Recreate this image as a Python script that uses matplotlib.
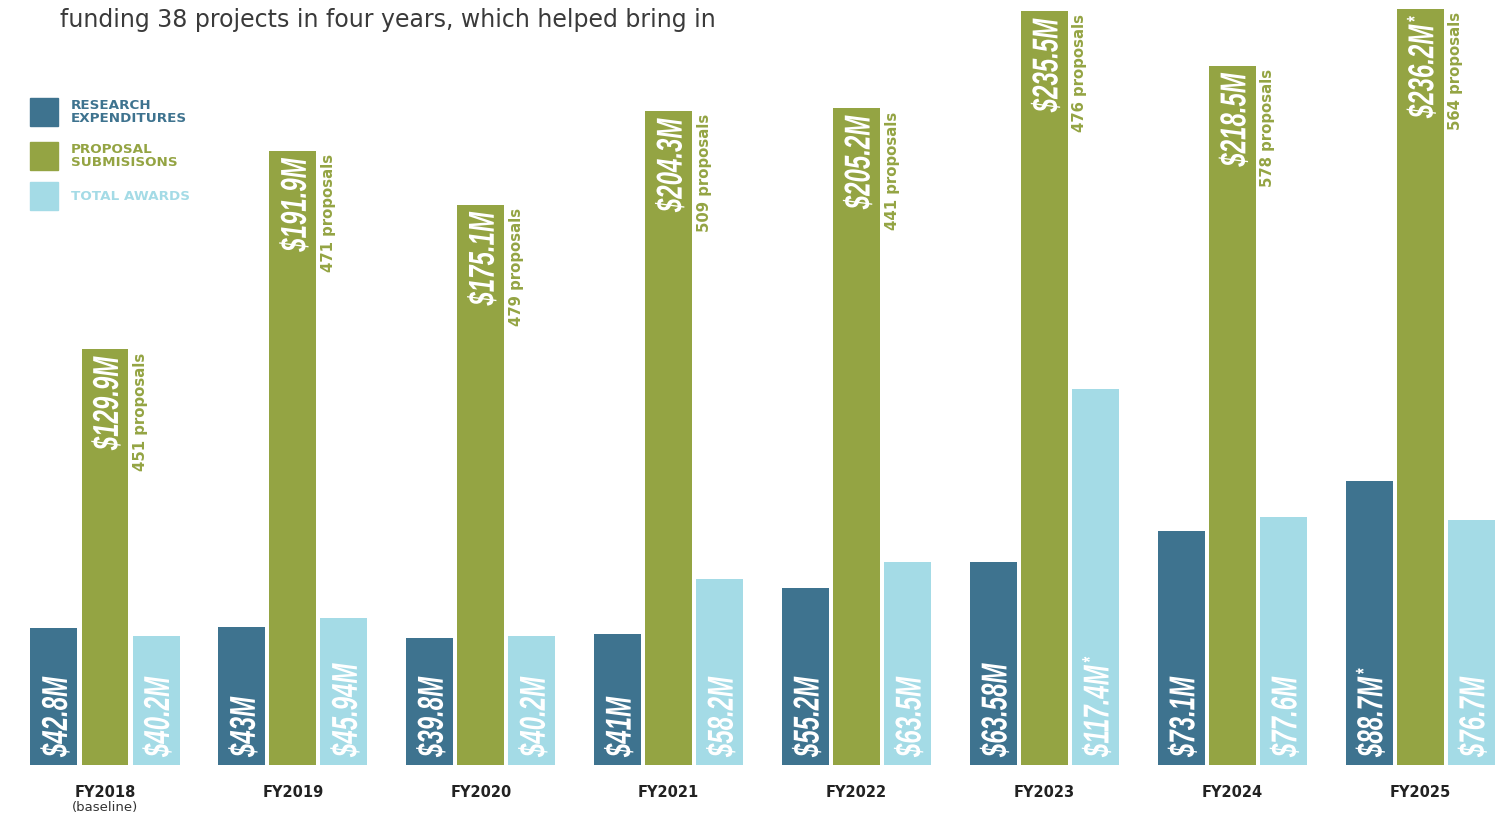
import matplotlib
matplotlib.use('Agg')
import matplotlib.pyplot as plt
import numpy as np
from matplotlib.textpath import TextPath
from matplotlib.patches import PathPatch, Rectangle
from matplotlib.font_manager import FontProperties
from matplotlib.transforms import Affine2D

# data (millions of dollars)
years = ['FY2018', 'FY2019', 'FY2020', 'FY2021', 'FY2022', 'FY2023', 'FY2024', 'FY2025']
research = [42.8, 43.0, 39.8, 41.0, 55.2, 63.58, 73.1, 88.7]
proposals = [129.9, 191.9, 175.1, 204.3, 205.2, 235.5, 218.5, 236.2]
awards = [40.2, 45.94, 40.2, 58.2, 63.5, 117.4, 77.6, 76.7]
n_proposals = [451, 471, 479, 509, 441, 476, 578, 564]
research_lbl = ['$42.8M', '$43M', '$39.8M', '$41M', '$55.2M', '$63.58M', '$73.1M', '$88.7M*']
proposal_lbl = ['$129.9M', '$191.9M', '$175.1M', '$204.3M', '$205.2M', '$235.5M', '$218.5M', '$236.2M*']
award_lbl = ['$40.2M', '$45.94M', '$40.2M', '$58.2M', '$63.5M', '$117.4M*', '$77.6M', '$76.7M']

C_RE = '#3e738f'
C_PS = '#94a443'
C_TA = '#a4dbe6'

W, H = 1509, 813
fig = plt.figure(figsize=(W / 100, H / 100), dpi=100)
ax = fig.add_axes([0, 48 / H, 1, 765 / H])
ax.axis('off')

x = np.arange(len(years))
step = 0.2715
bw = 0.25
ax.bar(x - step, research, bw, color=C_RE)
ax.bar(x, proposals, bw, color=C_PS)
ax.bar(x + step, awards, bw, color=C_TA)
ax.set_xlim(-105 / 187.9, (W - 105) / 187.9)
ax.set_ylim(0, 765 / 3.2)

# condensed italic labels inside the bars
fp = FontProperties(family='Liberation Sans', weight='bold', style='italic')
SX, SY, CAP = 24, 36, 0.72


def bar_text(xc, yv, s, top=False):
    star = s.endswith('*')
    s = s.rstrip('*')
    tp = TextPath((0, 0), s, size=1, prop=fp)
    L = tp.get_extents().x1 * SX
    sp = TextPath((0, 0), '*', size=0.6, prop=fp) if star else None
    Ls = sp.get_extents().x1 * SX + 2 if star else 0
    px, py = ax.transData.transform((xc, yv))
    y0 = py - L - Ls - 7 if top else py + 8
    tr = Affine2D().translate(0, -CAP / 2).scale(SX, SY).rotate_deg(90).translate(px, y0)
    fig.add_artist(PathPatch(tp, transform=tr, fc='white', ec='none'))
    if star:
        tr2 = Affine2D().translate(0, CAP / 2 - 0.4).scale(SX, SY).rotate_deg(90).translate(px, y0 + L + 2)
        fig.add_artist(PathPatch(sp, transform=tr2, fc='white', ec='none'))


fig.canvas.draw()
for i in range(len(years)):
    bar_text(x[i] - step, 0, research_lbl[i])
    bar_text(x[i], proposals[i], proposal_lbl[i], top=True)
    bar_text(x[i] + step, 0, award_lbl[i])
    ax.annotate(f'{n_proposals[i]} proposals', (x[i] + bw / 2, proposals[i]),
                xytext=(12, -3), textcoords='offset pixels', rotation=90,
                ha='center', va='top', color=C_PS, fontsize=10.7, fontweight='bold',
                annotation_clip=False)
    ax.annotate(years[i], (x[i], 0), xytext=(0, -27), textcoords='offset pixels',
                ha='center', va='center', fontsize=10.5, fontweight='bold',
                color='#222222', annotation_clip=False)
ax.annotate('(baseline)', (x[0], 0), xytext=(0, -42), textcoords='offset pixels',
            ha='center', va='center', fontsize=9.5, color='#333333', annotation_clip=False)

# legend
legend = [(C_RE, 'RESEARCH\nEXPENDITURES', 112), (C_PS, 'PROPOSAL\nSUBMISISONS', 156),
          (C_TA, 'TOTAL AWARDS', 196)]
for col, txt, yc in legend:
    fig.add_artist(Rectangle((30 / W, 1 - (yc + 14) / H), 28 / W, 28 / H,
                             transform=fig.transFigure, color=col))
    fig.text(71 / W, 1 - yc / H, txt, va='center', ha='left', fontsize=9.7,
             fontweight='bold', color=col, linespacing=0.95)

fig.text(60 / W, 1 - 27 / H, 'funding 38 projects in four years, which helped bring in',
         va='baseline', ha='left', fontsize=17, color='#3a3a3a')

fig.savefig('out.png', dpi=100)
